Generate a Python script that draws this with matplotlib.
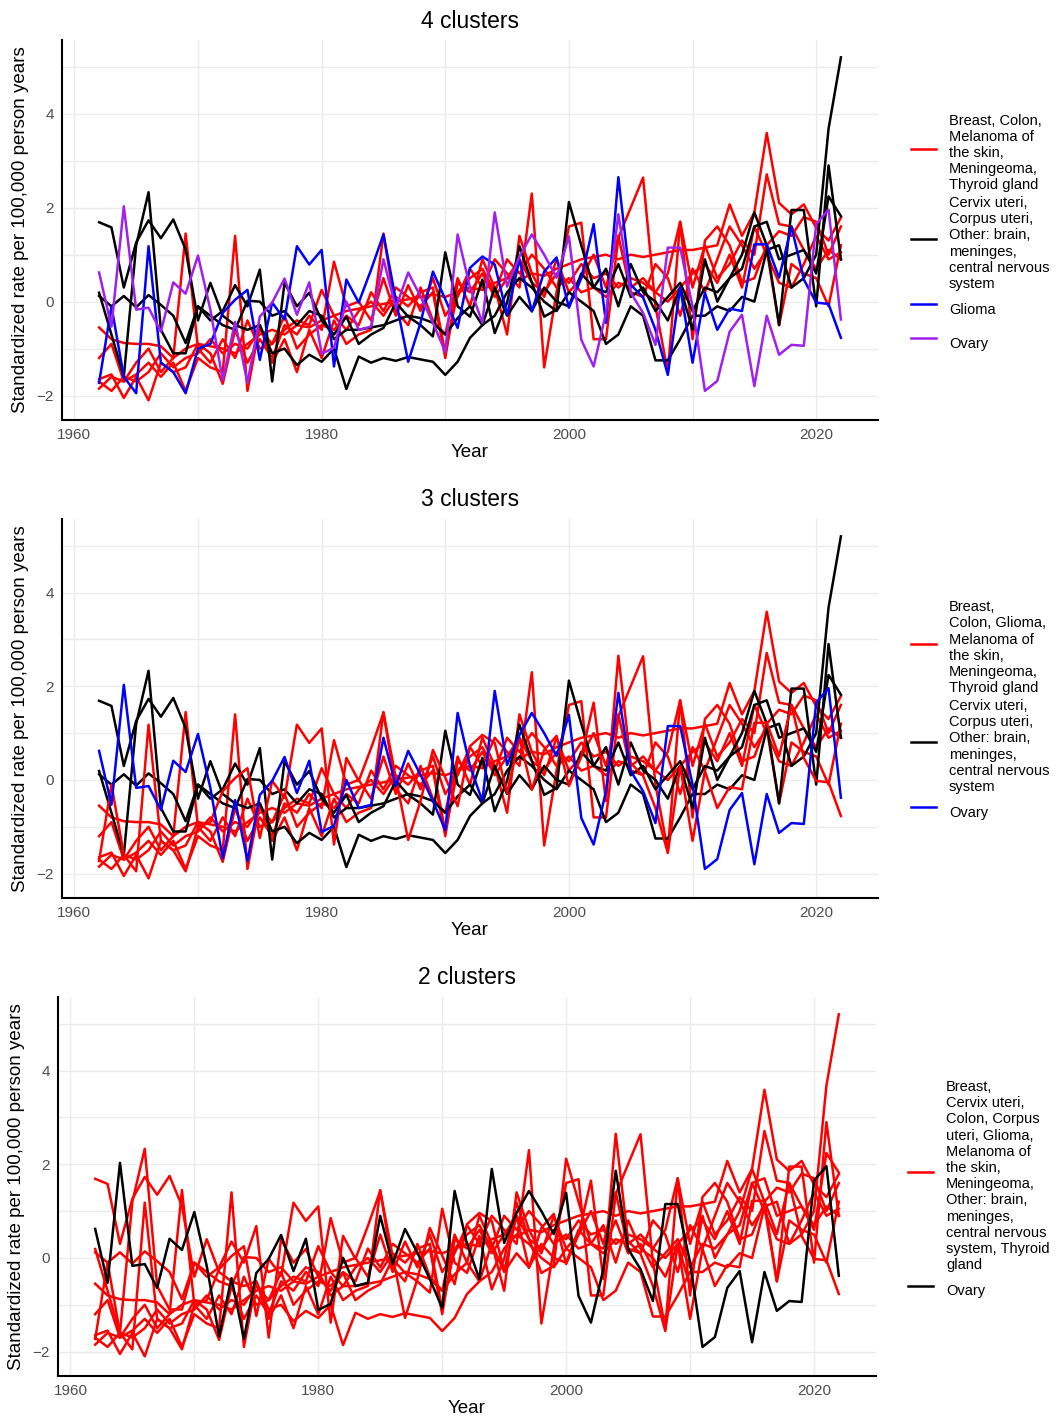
import numpy as np
import matplotlib.pyplot as plt
from matplotlib.lines import Line2D

plt.rcParams['font.family'] = ['Liberation Sans', 'DejaVu Sans']

years = np.arange(1962, 2023)

breast = [-0.55, -0.8, -0.88, -0.9, -0.9, -0.95, -1.2, -1.0, -0.9, -0.95,
          -1.0, -1.1, -0.9, -0.7, -0.6, -0.7, -0.5, -0.55, -0.4, -0.3,
          -0.2, -0.15, -0.1, -0.05, 0.0, 0.05, 0.1, 0.15, 0.1, 0.2,
          0.3, 0.25, 0.4, 0.5, 0.45, 0.6, 0.55, 0.7, 0.8, 0.9,
          0.95, 1.0, 0.9, 1.0, 0.95, 1.0, 1.05, 1.1, 1.1, 1.15,
          1.2, 2.07, 1.4, 1.9, 3.59, 2.1, 1.86, 2.07, 1.57, 1.3, 1.79]
colon = [-1.2, -0.9, -1.7, -1.3, -1.0, -1.5, -1.2, 1.45, -1.0, -1.3,
         -0.8, -1.2, -0.4, -1.0, -0.9, -0.3, -1.0, -0.7, -0.5, -0.6,
         -0.3, -0.5, 0.2, -0.2, 0.3, 0.1, -0.1, 0.2, -1.2, 0.4,
         0.2, 0.6, 0.1, 0.5, 0.9, 0.4, 0.2, 0.6, 0.4, 0.8,
         0.5, 0.6, 0.3, 0.5, 0.4, 0.2, 0.6, 1.7, 0.3, 1.2,
         0.5, 0.8, 1.3, 1.0, 2.71, 1.65, 1.6, 1.1, 0.7, 1.1, 0.9]
melanoma = [-1.65, -1.55, -2.05, -1.6, -2.1, -1.3, -1.5, -1.4, -0.9, -1.1,
            -1.75, -0.6, -1.3, -0.8, -1.2, -0.5, -0.7, -0.3, -0.6, 0.85,
            -0.1, 0.0, -0.4, 0.5, -0.3, 0.35, -0.2, 0.5, -0.3, 0.1,
            0.7, 0.3, 0.9, 0.6, 0.3, 2.3, -1.4, 0.2, 1.6, 1.68,
            -0.8, -0.8, 1.36, 2.0, 2.64, -0.1, -1.5, 1.7, -0.8, 1.3,
            1.6, 1.2, 0.4, 0.5, 1.2, 1.5, 1.4, 1.8, 1.7, 1.0, 1.6]
meningeoma = [-1.85, -1.6, -1.7, -1.55, -1.3, -1.6, -1.3, -1.9, -1.2, -1.4,
              -1.5, 1.4, -1.9, -0.5, -1.3, -0.8, -1.5, -0.6, -1.2, -0.4,
              -0.9, -0.7, -0.6, 1.45, -0.2, -0.5, 0.3, -0.4, -0.7, 0.5,
              -0.1, 0.9, 0.3, -0.7, 1.4, 0.6, 0.1, 0.9, 0.2, 0.5,
              1.0, 0.3, 1.4, 0.2, 0.1, 0.8, 0.5, -0.3, 0.7, 0.2,
              0.9, 1.6, 1.2, 0.7, 1.1, -0.5, 0.8, 0.6, 0.5, -0.1, 1.2]
thyroid = [-1.7, -1.9, -1.6, -1.7, -1.5, -1.1, -1.4, -1.2, -1.1, -0.8,
           -1.1, -0.9, -1.0, -0.6, -0.9, -0.6, -0.4, -0.5, 0.25, -0.3,
           -0.6, -0.2, 0.0, -0.3, 0.1, -0.1, 0.2, 0.3, -1.1, 0.2,
           0.5, 0.7, 0.2, 0.9, 0.6, 1.0, 0.7, 0.3, 0.5, 0.2,
           0.3, 0.1, 0.4, 0.3, 0.5, 0.2, 0.0, 0.3, 0.6, 0.8,
           0.4, 1.0, 0.3, 1.6, 1.0, 0.4, 0.3, 0.8, 1.4, 0.9, 1.05]
cervix = [1.69, 1.58, 0.3, 1.26, 1.73, 1.35, 1.75, 1.11, -0.4, 0.4,
          -0.3, -0.5, -0.6, -0.5, -1.1, -1.0, -1.35, -1.13, -1.28, -1.0,
          -1.86, -1.17, -1.3, -1.2, -1.26, -1.18, -1.23, -1.28, -1.56, -1.28,
          -0.77, -0.5, -0.3, 0.2, 0.5, 0.3, 0.0, -0.2, 0.2, 0.0,
          -0.2, -0.9, -0.7, -0.1, -0.3, -1.25, -1.25, -0.8, -0.3, -0.3,
          -0.1, -0.2, 0.1, 0.0, 1.1, 1.2, 0.3, 0.5, 1.0, 3.68, 5.2]
corpus = [0.19, -0.7, -1.6, 1.2, 2.33, -0.6, -1.1, -1.1, -0.1, -0.4,
          -0.2, 0.35, -0.1, 0.68, -1.7, 0.4, -0.1, 0.19, -0.4, -0.7,
          -0.32, -0.9, -0.7, -0.56, -0.02, -0.32, -0.5, -0.74, 1.05, -0.1,
          -0.32, 0.47, -0.67, -0.02, 1.18, 0.41, -0.32, -0.17, 2.12, 1.2,
          0.3, 0.7, -0.1, 0.8, 0.2, 0.0, -0.4, 0.3, -0.6, 0.9,
          0.0, 0.5, 1.0, 1.9, 1.2, -0.5, 1.95, 1.95, -0.1, 2.9, 0.9]
other_cns = [0.12, -0.1, 0.12, -0.12, 0.14, -0.07, -0.3, -0.88, -0.1, -0.3,
             -0.5, -0.6, 0.02, 0.0, -0.3, -0.2, -0.5, -0.2, -0.3, -0.8,
             -0.6, -0.6, -0.55, -0.5, -0.4, -0.3, -0.35, -0.45, -0.7, -0.35,
             -0.1, -0.5, 0.3, -0.3, 0.1, -0.2, 0.3, 0.0, -0.1, 0.6,
             0.3, 0.2, 0.8, 0.1, 0.3, -0.2, 0.1, 0.4, -0.2, 0.3,
             0.2, 0.5, 0.7, 1.6, 1.7, 0.9, 1.0, 1.1, 0.6, 2.24, 1.82]
glioma = [-1.73, -0.1, -1.6, -1.95, 1.18, -1.3, -1.5, -1.95, -1.0, -0.9,
          -0.24, 0.04, 0.25, -1.24, -0.02, -0.38, 1.18, 0.79, 1.1, -1.38,
          0.47, -0.02, 0.68, 1.43, 0.04, -1.28, -0.45, 0.64, 0.05, -0.56,
          0.72, 0.96, 0.79, -0.28, 0.9, -0.21, 0.64, 0.94, -0.13, 0.5,
          1.65, -0.45, 2.65, 0.36, 0.09, -0.6, -1.56, 0.3, -1.3, 0.19,
          -0.6, -0.15, -0.2, 1.22, 1.22, 0.51, 1.6, 0.47, -0.02, -0.05, -0.77]
ovary = [0.62, -0.53, 2.03, -0.17, -0.13, -0.64, 0.41, 0.17, 0.98, -0.17,
         -1.67, -0.43, -1.73, -0.32, -0.02, 0.49, -0.28, 0.41, -1.11, -0.98,
         0.0, -0.6, -0.53, 0.9, -0.13, 0.62, 0.11, -0.45, -1.07, 1.43,
         0.3, -0.45, 1.9, 0.32, 0.96, 1.43, 1.0, 0.51, 1.39, -0.81,
         -1.38, -0.24, 1.86, 0.19, -0.24, -0.92, 1.15, 1.15, -0.1, -1.9,
         -1.69, -0.64, -0.28, -1.8, -0.3, -1.13, -0.92, -0.94, 1.65, 1.96, -0.38]

series = {
    'Breast': breast, 'Colon': colon, 'Melanoma of the skin': melanoma,
    'Meningeoma': meningeoma, 'Thyroid gland': thyroid,
    'Cervix uteri': cervix, 'Corpus uteri': corpus,
    'Other: brain, meninges, central nervous system': other_cns,
    'Glioma': glioma, 'Ovary': ovary,
}

# each cluster: (legend label, colour, members)
clusters_4 = [
    ('Breast, Colon,\nMelanoma of\nthe skin,\nMeningeoma,\nThyroid gland', '#FF0000',
     ['Breast', 'Colon', 'Melanoma of the skin', 'Meningeoma', 'Thyroid gland']),
    ('Cervix uteri,\nCorpus uteri,\nOther: brain,\nmeninges,\ncentral nervous\nsystem', 'black',
     ['Cervix uteri', 'Corpus uteri', 'Other: brain, meninges, central nervous system']),
    ('Glioma', '#0000FF', ['Glioma']),
    ('Ovary', '#A020F0', ['Ovary']),
]
clusters_3 = [
    ('Breast,\nColon, Glioma,\nMelanoma of\nthe skin,\nMeningeoma,\nThyroid gland', '#FF0000',
     ['Breast', 'Colon', 'Glioma', 'Melanoma of the skin', 'Meningeoma', 'Thyroid gland']),
    ('Cervix uteri,\nCorpus uteri,\nOther: brain,\nmeninges,\ncentral nervous\nsystem', 'black',
     ['Cervix uteri', 'Corpus uteri', 'Other: brain, meninges, central nervous system']),
    ('Ovary', '#0000FF', ['Ovary']),
]
clusters_2 = [
    ('Breast,\nCervix uteri,\nColon, Corpus\nuteri, Glioma,\nMelanoma of\nthe skin,\nMeningeoma,\n'
     'Other: brain,\nmeninges,\ncentral nervous\nsystem, Thyroid\ngland', '#FF0000',
     ['Breast', 'Cervix uteri', 'Colon', 'Corpus uteri', 'Glioma', 'Melanoma of the skin',
      'Meningeoma', 'Other: brain, meninges, central nervous system', 'Thyroid gland']),
    ('Ovary', 'black', ['Ovary']),
]

# title, clusters, axes box in pixels (left, top, right, bottom), legend anchor
panels = [
    ('4 clusters', clusters_4, [62, 40, 878, 420], (898, 236)),
    ('3 clusters', clusters_3, [62, 519, 878, 898], (898, 714)),
    ('2 clusters', clusters_2, [58, 997, 876, 1376], (895, 1193)),
]

W, H = 1057, 1422
fig = plt.figure(figsize=(W / 100, H / 100), dpi=100)

for title, groups, (x0, y0, x1, y1), (lx, ly) in panels:
    ax = fig.add_axes([x0 / W, 1 - y1 / H, (x1 - x0) / W, (y1 - y0) / H])
    for name in series:
        for lab, col, members in groups:
            if name in members:
                ax.plot(years, series[name], color=col, lw=1.8)
    ax.set_xlim(1959, 2025)
    ax.set_ylim(-2.52, 5.57)
    ax.set_xticks([1960, 1980, 2000, 2020])
    ax.set_xticks([1970, 1990, 2010], minor=True)
    ax.set_yticks([-2, 0, 2, 4])
    ax.set_yticks([-1, 1, 3, 5], minor=True)
    ax.grid(True, which='both', color='#EBEBEB', lw=1.0)
    ax.set_axisbelow(True)
    for s in ['top', 'right']:
        ax.spines[s].set_visible(False)
    for s in ['left', 'bottom']:
        ax.spines[s].set_linewidth(1.5)
    ax.tick_params(which='both', length=0, labelsize=11, labelcolor='#4D4D4D', pad=6)
    ax.set_xlabel('Year', fontsize=13.5, labelpad=1)
    ax.set_ylabel('Standardized rate per 100,000 person years', fontsize=13.5, labelpad=5)
    ax.set_title(title, fontsize=16.5, pad=9)

    handles = [Line2D([], [], color=col, lw=1.8) for lab, col, members in groups]
    labels = [lab for lab, col, members in groups]
    ax.legend(handles, labels, loc='center left', frameon=False,
              bbox_to_anchor=(lx / W, 1 - ly / H), bbox_transform=fig.transFigure,
              fontsize=10.5, handlelength=1.7, handletextpad=0.9,
              handleheight=2.8, labelspacing=0.25)

fig.savefig('out.png', dpi=100)
